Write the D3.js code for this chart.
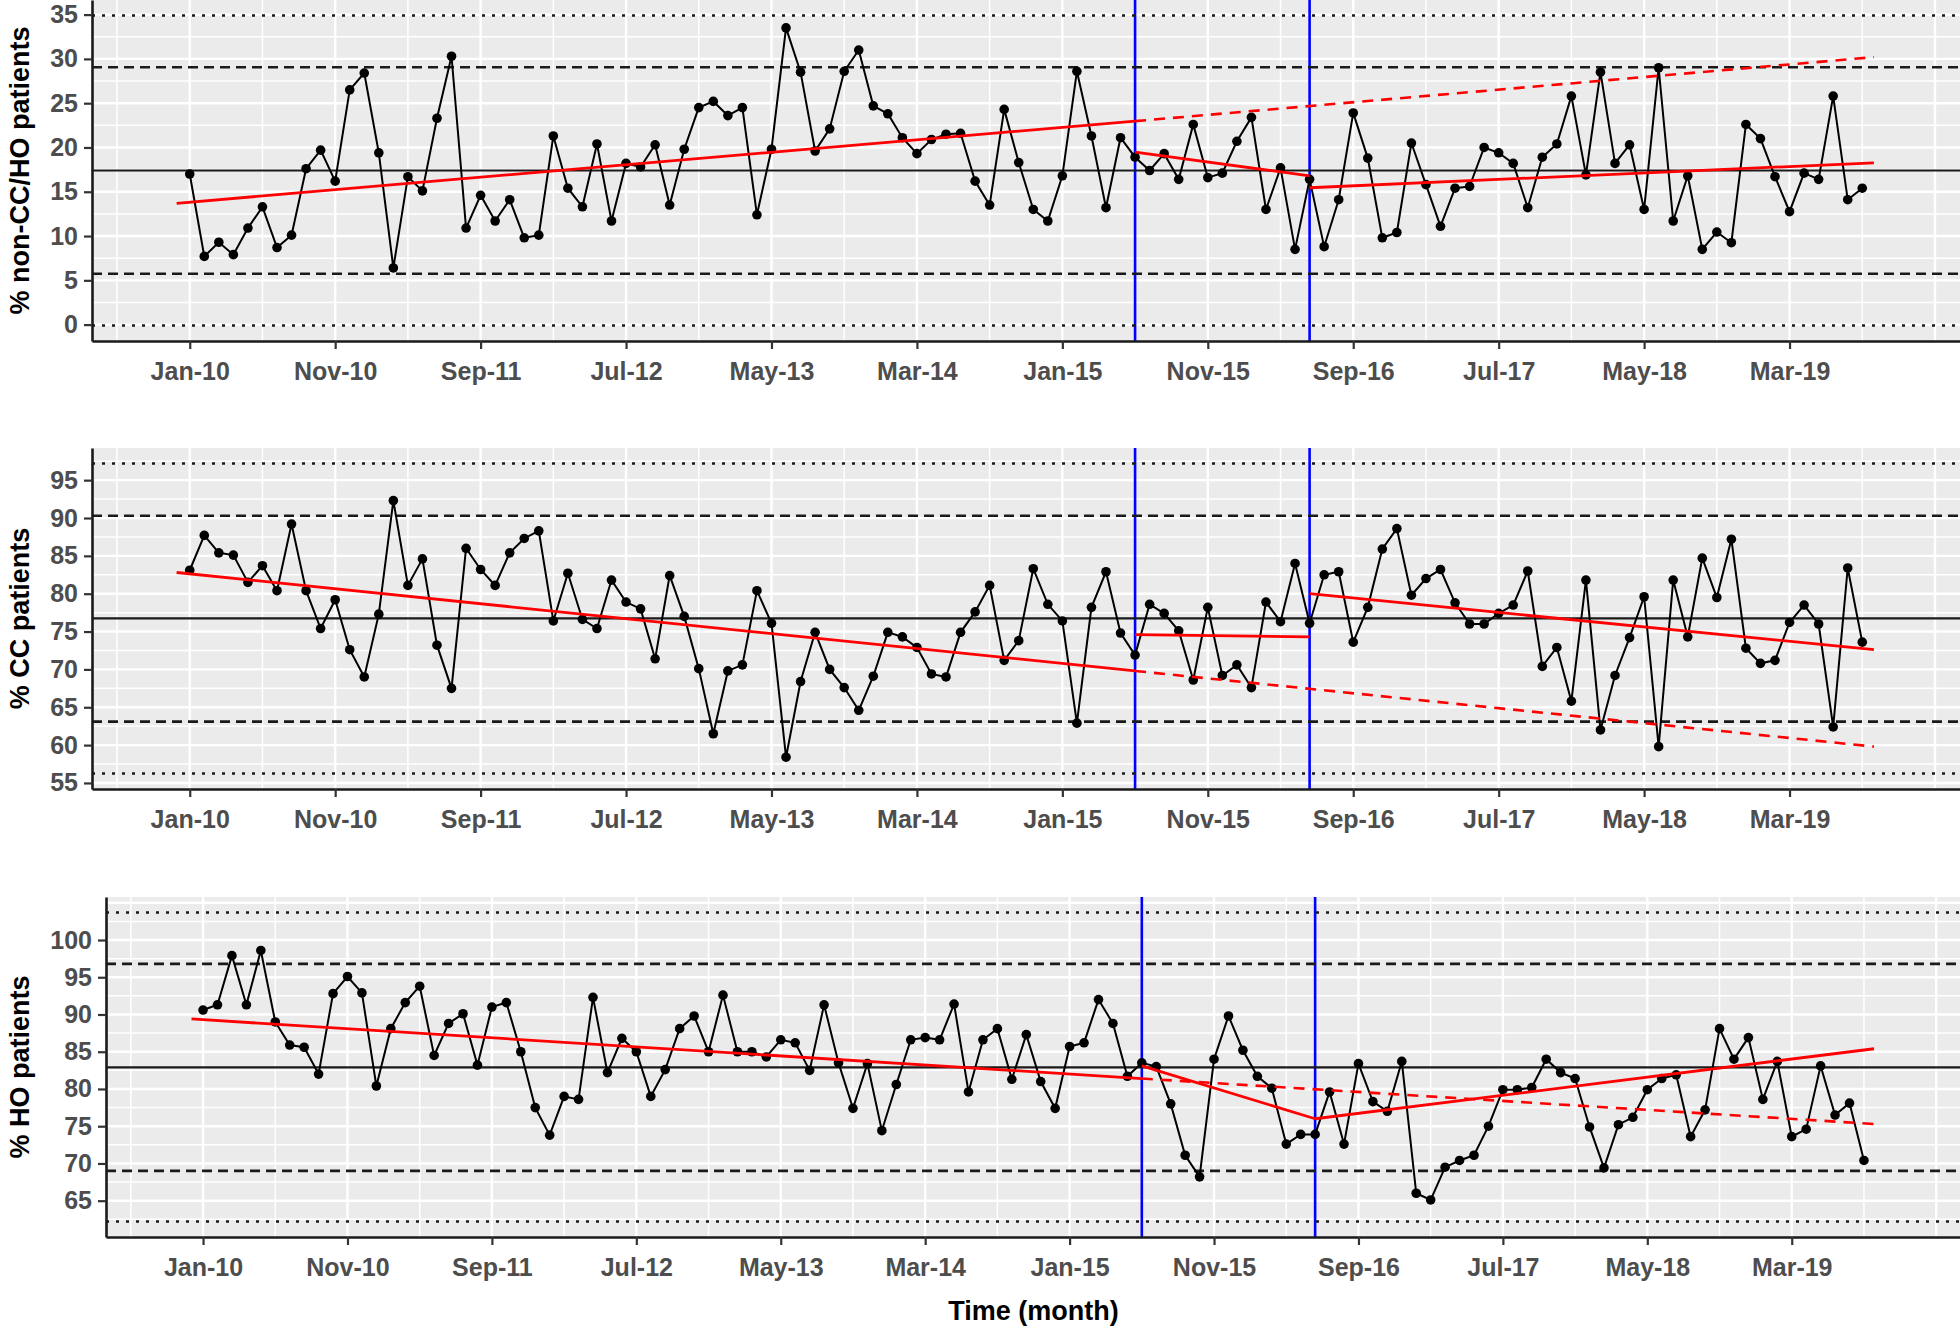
<!DOCTYPE html>
<html>
<head>
<meta charset="utf-8">
<script src="https://cdn.jsdelivr.net/npm/d3@7"></script>
<style>
  body { margin: 0; background: #fff; }
  text { font-family: "Liberation Sans", Arial, sans-serif; }
</style>
</head>
<body>
<script>
// Month index 0 = Jan-10 ... 115 = Aug-19
var tickMonths = [0, 10, 20, 30, 40, 50, 60, 70, 80, 90, 100, 110];
var tickLabels = ["Jan-10", "Nov-10", "Sep-11", "Jul-12", "May-13", "Mar-14",
                  "Jan-15", "Nov-15", "Sep-16", "Jul-17", "May-18", "Mar-19"];

// Interruption points (blue lines)
var breakMonths = [65, 77];

// % non-CC/HO patients
var nonCC = [17.0, 7.7, 9.3, 7.9, 10.9, 13.3, 8.7, 10.1, 17.6, 19.7,
  16.2, 26.5, 28.4, 19.4, 6.4, 16.7, 15.1, 23.3, 30.3, 10.9,
  14.6, 11.7, 14.1, 9.8, 10.1, 21.3, 15.4, 13.3, 20.4, 11.7,
  18.2, 17.8, 20.3, 13.5, 19.8, 24.5, 25.2, 23.6, 24.5, 12.4,
  19.8, 33.5, 28.5, 19.6, 22.1, 28.6, 31.0, 24.7, 23.8, 21.1,
  19.3, 20.9, 21.5, 21.6, 16.2, 13.5, 24.3, 18.3, 13.0, 11.7,
  16.8, 28.6, 21.3, 13.2, 21.1, 18.9, 17.4, 19.3, 16.4, 22.6,
  16.6, 17.1, 20.7, 23.4, 13.0, 17.7, 8.5, 16.4, 8.8, 14.1,
  23.9, 18.8, 9.8, 10.4, 20.5, 15.8, 11.1, 15.4, 15.6, 20.0,
  19.4, 18.2, 13.2, 18.9, 20.4, 25.8, 16.9, 28.5, 18.2, 20.3,
  13.0, 29.0, 11.7, 16.8, 8.5, 10.45, 9.25, 22.6, 21.0, 16.7,
  12.75, 17.1, 16.4, 25.8, 14.1, 15.4];

// % CC patients
var cc = [83.1, 87.7, 85.4, 85.1, 81.5, 83.7, 80.4, 89.2, 80.4, 75.4,
  79.2, 72.6, 69.0, 77.3, 92.3, 81.1, 84.6, 73.2, 67.5, 86.0,
  83.2, 81.1, 85.4, 87.3, 88.3, 76.4, 82.7, 76.6, 75.4, 81.8,
  78.9, 78.0, 71.4, 82.4, 77.0, 70.1, 61.5, 69.8, 70.6, 80.4,
  76.1, 58.4, 68.4, 74.9, 70.0, 67.6, 64.6, 69.1, 74.9, 74.3,
  72.9, 69.4, 69.0, 74.9, 77.6, 81.1, 71.2, 73.8, 83.3, 78.6,
  76.4, 62.9, 78.2, 82.9, 74.8, 71.9, 78.6, 77.4, 75.1, 68.6,
  78.2, 69.2, 70.6, 67.6, 78.9, 76.3, 84.0, 76.1, 82.5, 82.9,
  73.6, 78.2, 85.9, 88.6, 79.8, 82.0, 83.2, 78.8, 76.0, 76.0,
  77.4, 78.5, 83.0, 70.4, 72.9, 65.8, 81.8, 62.0, 69.2, 74.2,
  79.6, 59.8, 81.8, 74.3, 84.7, 79.5, 87.2, 72.8, 70.8, 71.2,
  76.2, 78.5, 76.0, 62.4, 83.4, 73.6];

// % HO patients
var ho = [90.6, 91.3, 97.9, 91.3, 98.6, 89.0, 85.9, 85.6, 82.0, 92.8,
  95.1, 92.9, 80.4, 88.1, 91.6, 93.8, 84.5, 88.8, 90.1, 83.2,
  91.0, 91.6, 85.0, 77.5, 73.8, 79.0, 78.6, 92.3, 82.2, 86.8,
  85.0, 79.0, 82.6, 88.1, 89.8, 85.0, 92.6, 85.0, 85.0, 84.3,
  86.6, 86.2, 82.5, 91.3, 83.5, 77.4, 83.4, 74.4, 80.6, 86.6,
  86.9, 86.6, 91.4, 79.6, 86.6, 88.1, 81.3, 87.3, 81.0, 77.4,
  85.7, 86.2, 92.0, 88.8, 81.7, 83.5, 83.0, 78.0, 71.1, 68.2,
  84.0, 89.8, 85.2, 81.7, 80.1, 72.6, 73.9, 73.9, 79.6, 72.6,
  83.4, 78.3, 77.0, 83.7, 66.0, 65.1, 69.5, 70.4, 71.1, 75.0,
  79.9, 79.9, 80.2, 84.0, 82.2, 81.4, 74.9, 69.4, 75.2, 76.2,
  79.9, 81.4, 81.9, 73.6, 77.2, 88.1, 84.0, 86.9, 78.6, 83.7,
  73.6, 74.6, 83.1, 76.5, 78.1, 70.4];

// control limits: [-3sd, -2sd, centre, +2sd, +3sd]
var nonCCLimits = [-0.1, 5.75, 17.4, 29.06, 34.9];
var ccLimits = [56.25, 63.1, 76.75, 90.3, 97.2];
var hoLimits = [62.2, 69.0, 82.9, 96.8, 103.7];

// segmented trend lines: [x0, y0, x1, y1]
var nonCCTrend = [[-0.9, 13.7, 65, 22.97], [65, 19.47, 77, 16.8], [77, 15.45, 115.8, 18.27]];
var nonCCTrendExt = [[65, 22.97, 115.8, 30.2]];
var ccTrend = [[-0.9, 82.8, 65, 69.8], [65, 74.6, 77, 74.3], [77, 80.0, 115.8, 72.6]];
var ccTrendExt = [[65, 69.8, 115.8, 59.8]];
var hoTrend = [[-0.8, 89.4, 65, 81.4], [65, 83.1, 77, 76.0], [77, 76.0, 115.7, 85.4]];
var hoTrendExt = [[65, 81.4, 115.7, 75.3]];

var nonCCTicks = [0, 5, 10, 15, 20, 25, 30, 35];
var ccTicks = [55, 60, 65, 70, 75, 80, 85, 90, 95];
var hoTicks = [65, 70, 75, 80, 85, 90, 95, 100];

var svgWidth = 1960;
var svgHeight = 1328;

var svg = d3.select("body")
    .append("svg")
    .attr("width", svgWidth)
    .attr("height", svgHeight);

var panels = [
    { values: nonCC, limits: nonCCLimits, trend: nonCCTrend, ext: nonCCTrendExt, ticks: nonCCTicks,
      title: "% non-CC/HO patients", left: 92, right: 1960, top: 0, bottom: 341 },
    { values: cc, limits: ccLimits, trend: ccTrend, ext: ccTrendExt, ticks: ccTicks,
      title: "% CC patients", left: 92, right: 1960, top: 448, bottom: 789 },
    { values: ho, limits: hoLimits, trend: hoTrend, ext: hoTrendExt, ticks: hoTicks,
      title: "% HO patients", left: 106, right: 1961, top: 897, bottom: 1237 }
];

panels.forEach(function (p) {
    var lo = p.limits[0], hi = p.limits[4];
    var pad = (hi - lo) * 0.05;

    var x = d3.scaleLinear().domain([-6.72, 121.72]).range([p.left, p.right]);
    var y = d3.scaleLinear().domain([lo - pad, hi + pad]).range([p.bottom, p.top]);

    var g = svg.append("g");

    // panel background
    g.append("rect")
        .attr("x", p.left).attr("y", p.top)
        .attr("width", p.right - p.left).attr("height", p.bottom - p.top)
        .attr("fill", "#ebebeb");

    // grid lines
    var yd = y.domain();
    var hGrid = d3.range(Math.ceil(yd[0] / 2.5) * 2.5, yd[1], 2.5);
    g.selectAll(null).data(hGrid).enter().append("line")
        .attr("x1", p.left).attr("x2", p.right)
        .attr("y1", d => y(d)).attr("y2", d => y(d))
        .attr("stroke", "#fff")
        .attr("stroke-width", d => (d % 5 === 0) ? 2.4 : 1.5);

    var vGrid = d3.range(-5, 121, 5);
    g.selectAll(null).data(vGrid).enter().append("line")
        .attr("x1", d => x(d)).attr("x2", d => x(d))
        .attr("y1", p.top).attr("y2", p.bottom)
        .attr("stroke", "#fff")
        .attr("stroke-width", d => (d % 10 === 0) ? 2.4 : 1.5);

    // interruption lines
    g.selectAll(null).data(breakMonths).enter().append("line")
        .attr("x1", d => x(d)).attr("x2", d => x(d))
        .attr("y1", p.top).attr("y2", p.bottom)
        .attr("stroke", "#0000ff")
        .attr("stroke-width", 2.6);

    // control lines
    var dash = ["3,7", "10,6", null, "10,6", "3,7"];
    g.selectAll(null).data(p.limits).enter().append("line")
        .attr("x1", p.left).attr("x2", p.right)
        .attr("y1", d => y(d)).attr("y2", d => y(d))
        .attr("stroke", "#1a1a1a")
        .attr("stroke-width", (d, i) => i === 2 ? 2.2 : 2.6)
        .attr("stroke-dasharray", (d, i) => dash[i]);

    // series
    var line = d3.line()
        .x((d, i) => x(i))
        .y(d => y(d));

    g.append("path")
        .datum(p.values)
        .attr("d", line)
        .attr("fill", "none")
        .attr("stroke", "#000")
        .attr("stroke-width", 2);

    g.selectAll(null).data(p.values).enter().append("circle")
        .attr("cx", (d, i) => x(i))
        .attr("cy", d => y(d))
        .attr("r", 4.8)
        .attr("fill", "#000");

    // trend segments
    g.selectAll(null).data(p.ext).enter().append("line")
        .attr("x1", d => x(d[0])).attr("y1", d => y(d[1]))
        .attr("x2", d => x(d[2])).attr("y2", d => y(d[3]))
        .attr("stroke", "#ff0000")
        .attr("stroke-width", 2.6)
        .attr("stroke-dasharray", "11,8");

    g.selectAll(null).data(p.trend).enter().append("line")
        .attr("x1", d => x(d[0])).attr("y1", d => y(d[1]))
        .attr("x2", d => x(d[2])).attr("y2", d => y(d[3]))
        .attr("stroke", "#ff0000")
        .attr("stroke-width", 2.8);

    // axes
    var leftAxis = d3.axisLeft(y)
        .tickValues(p.ticks)
        .tickSize(8)
        .tickSizeOuter(0)
        .tickPadding(6);

    var bottomAxis = d3.axisBottom(x)
        .tickValues(tickMonths)
        .tickFormat((d, i) => tickLabels[i])
        .tickSize(8)
        .tickSizeOuter(0)
        .tickPadding(13);

    var ya = g.append("g")
        .attr("transform", `translate(${p.left}, 0)`)
        .call(leftAxis);

    var xa = g.append("g")
        .attr("transform", `translate(0, ${p.bottom})`)
        .call(bottomAxis);

    [ya, xa].forEach(function (a) {
        a.select(".domain").attr("stroke", "#1a1a1a").attr("stroke-width", 2.6);
        a.selectAll(".tick line").attr("stroke", "#333").attr("stroke-width", 2.2);
        a.selectAll(".tick text")
            .attr("fill", "#4d4d4d")
            .attr("font-size", 25)
            .attr("font-weight", "bold")
            .attr("font-family", "'Liberation Sans', Arial, sans-serif");
    });

    // y title
    g.append("text")
        .attr("transform", `translate(29, ${(p.top + p.bottom) / 2}) rotate(-90)`)
        .attr("text-anchor", "middle")
        .attr("font-size", 27)
        .attr("font-weight", "bold")
        .attr("fill", "#000")
        .text(p.title);
});

// x title
svg.append("text")
    .attr("x", (106 + 1961) / 2)
    .attr("y", 1320)
    .attr("text-anchor", "middle")
    .attr("font-size", 27)
    .attr("font-weight", "bold")
    .attr("fill", "#000")
    .text("Time (month)");
</script>
</body>
</html>
